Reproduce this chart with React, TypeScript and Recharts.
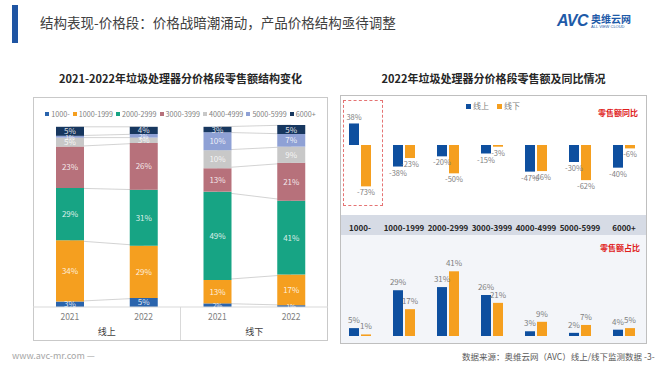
import React from 'react';
import {
  BarChart, Bar, ComposedChart, Line, XAxis, YAxis, Legend, LabelList,
} from 'recharts';

// 价格段
const priceBands = ['1000-', '1000-1999', '2000-2999', '3000-3999', '4000-4999', '5000-5999', '6000+'];
const bandColors = ['#2a64ad', '#f59f1f', '#17a484', '#b7717b', '#c8c8c8', '#8fa1d5', '#17375f'];

// 左图：结构变化（线上2021, 线上2022, 线下2021, 线下2022）
const years = ['2021', '2022', '2021', '2022'];
const groups = ['线上', '线上', '线下', '线下'];
const share1000 = [3, 5, 2, 1];
const share1000to1999 = [34, 29, 13, 17];
const share2000to2999 = [29, 31, 49, 41];
const share3000to3999 = [23, 26, 13, 21];
const share4000to4999 = [5, 3, 10, 9];
const share5000to5999 = [1, 2, 10, 7];
const share6000 = [5, 4, 3, 5];
const shareSeries = [share1000, share1000to1999, share2000to2999, share3000to3999, share4000to4999, share5000to5999, share6000];

// 右图：2022 同比 / 占比
const yoyOnline = [38, -38, -20, -15, -47, -30, -40];
const yoyOffline = [-73, -23, -50, -3, -46, -62, -6];
const shareOnline = [5, 29, 31, 26, 3, 2, 4];
const shareOffline = [1, 17, 41, 21, 9, 7, 5];

const FONT = '"Noto Sans CJK SC", "Noto Sans", sans-serif';

const structData = years.map((y, i) => {
  const row: any = { name: `${groups[i]}${y}`, idx: i };
  let cum = 0;
  shareSeries.forEach((s, k) => {
    row[`s${k}`] = s[i];
    cum += s[i];
    // 连接线：只在同一渠道的两年之间
    row[`on${k}`] = i < 2 ? cum : null;
    row[`off${k}`] = i >= 2 ? cum : null;
  });
  return row;
});

const yoyData = priceBands.map((b, i) => ({ band: b, online: yoyOnline[i], offline: yoyOffline[i] }));
const shareData = priceBands.map((b, i) => ({ band: b, online: shareOnline[i], offline: shareOffline[i] }));

function YearTick(props: any) {
  const { x, y, index, width } = props;
  const half = width / years.length / 2;
  return (
    <g>
      <text x={x} y={y + 13} textAnchor="middle" fontSize={8.5} fill="#7f7f7f">{years[index]}</text>
      {index % 2 === 0 && (
        <text x={x + half} y={y + 28} textAnchor="middle" fontSize={9} fill="#404040">{groups[index]}</text>
      )}
      {index === 2 && <line x1={x - half} x2={x - half} y1={y} y2={y + 33} stroke="#d9d9d9" />}
    </g>
  );
}

function StructLegend(props: any) {
  const items = (props.payload || []).filter((p: any) => p.type !== 'none');
  return (
    <div style={{ display: 'flex', justifyContent: 'center', gap: 3, fontSize: 7.2, color: '#7f7f7f', whiteSpace: 'nowrap', lineHeight: '10px' }}>
      {items.map((p: any) => (
        <span key={p.value} style={{ display: 'flex', alignItems: 'center' }}>
          <span style={{ display: 'inline-block', width: 4, height: 4, background: p.color, marginRight: 2 }} />
          {p.value}
        </span>
      ))}
    </div>
  );
}

function StructLabel(props: any) {
  const { x, y, width, height, value } = props;
  return (
    <text x={x + width / 2} y={y + height / 2 + 3} textAnchor="middle" fontSize={value <= 2 ? 6.5 : 8} fill="#ffffff" fillOpacity={0.85}>
      {`${value}%`}
    </text>
  );
}

function YoyLabel(props: any) {
  const { x, y, width, height, value } = props;
  const top = Math.min(y, y + height);
  const bottom = Math.max(y, y + height);
  const cx = x + width / 2;
  return (
    <text x={cx} y={value >= 0 ? top - 3 : bottom + 9} textAnchor="middle" fontSize={7.5} fill="#7f7f7f">
      {`${value}%`}
    </text>
  );
}

export default function App() {
  return (
    <div style={{ position: 'fixed', left: 0, top: 0, width: 671, height: 372, background: '#fff', fontFamily: FONT, overflow: 'hidden' }}>
      {/* 标题 */}
      <div style={{ position: 'absolute', left: 12, top: 5, width: 6, height: 38, background: '#1f55a3' }} />
      <div style={{ position: 'absolute', left: 40, top: 12, fontSize: 13.5, color: '#404040', whiteSpace: 'nowrap' }}>
        结构表现-价格段：价格战暗潮涌动，产品价格结构亟待调整
      </div>
      <div style={{ position: 'absolute', left: 557, top: 12, display: 'flex', alignItems: 'center', color: '#1e5aa8' }}>
        <span style={{ fontSize: 16, fontWeight: 900, fontStyle: 'italic', letterSpacing: -0.5, fontFamily: 'Liberation Sans, sans-serif' }}>AVC</span>
        <span style={{ display: 'flex', flexDirection: 'column', marginLeft: 3 }}>
          <span style={{ fontSize: 10, fontWeight: 700, lineHeight: '11px' }}>奥维云网</span>
          <span style={{ fontSize: 4, lineHeight: '5px', fontFamily: 'Liberation Sans, sans-serif' }}>ALL VIEW CLOUD</span>
        </span>
      </div>

      {/* 左侧 */}
      <div style={{ position: 'absolute', left: 33, width: 295, top: 70, textAlign: 'center', fontSize: 11, fontWeight: 700, color: '#262626', whiteSpace: 'nowrap' }}>
        2021-2022年垃圾处理器分价格段零售额结构变化
      </div>
      <div style={{ position: 'absolute', left: 33, top: 97, width: 295, height: 244, border: '1px solid #c9c9c9', boxSizing: 'border-box' }} />
      <div style={{ position: 'absolute', left: 33, top: 97 }}>
        <ComposedChart width={295} height={244} data={structData} margin={{ top: 12, right: 0, left: 0, bottom: 0 }} barCategoryGap="30%">
          <XAxis dataKey="name" axisLine={{ stroke: '#d9d9d9' }} tickLine={false} tickSize={0} tickMargin={0} height={34} tick={<YearTick />} interval={0} />
          <YAxis hide domain={[0, 101]} />
          <Legend verticalAlign="top" height={16} content={<StructLegend />} />
          {shareSeries.map((_, k) => (
            <Line key={`on${k}`} dataKey={`on${k}`} stroke="#c8c8c8" strokeWidth={0.8} dot={false} activeDot={false}
              legendType="none" isAnimationActive={false} zIndex={100} />
          ))}
          {shareSeries.map((_, k) => (
            <Line key={`off${k}`} dataKey={`off${k}`} stroke="#c8c8c8" strokeWidth={0.8} dot={false} activeDot={false}
              legendType="none" isAnimationActive={false} zIndex={100} />
          ))}
          {shareSeries.map((_, k) => (
            <Bar key={`s${k}`} dataKey={`s${k}`} name={priceBands[k]} stackId="a" fill={bandColors[k]} barSize={28} isAnimationActive={false}>
              <LabelList dataKey={`s${k}`} content={<StructLabel />} />
            </Bar>
          ))}
        </ComposedChart>
      </div>

      {/* 右侧 */}
      <div style={{ position: 'absolute', left: 340, width: 307, top: 70, textAlign: 'center', fontSize: 11, fontWeight: 700, color: '#262626', whiteSpace: 'nowrap' }}>
        2022年垃圾处理器分价格段零售额及同比情况
      </div>
      <div style={{ position: 'absolute', left: 341, top: 215, width: 305, height: 20, background: '#d6dbe5' }} />
      <div style={{ position: 'absolute', left: 341, top: 235, width: 305, height: 108, background: '#f3f5f9' }} />
      <div style={{ position: 'absolute', left: 340, top: 95, width: 307, height: 249, border: '1px solid #bfbfbf', boxSizing: 'border-box' }} />
      <div style={{ position: 'absolute', left: 343, top: 100, width: 40, height: 106, border: '1px dashed #e57373', boxSizing: 'border-box' }} />

      <div style={{ position: 'absolute', left: 466, top: 100, display: 'flex', gap: 8, fontSize: 8, color: '#7f7f7f' }}>
        <span><span style={{ display: 'inline-block', width: 5, height: 5, background: '#0e4f9f', marginRight: 2 }} />线上</span>
        <span><span style={{ display: 'inline-block', width: 5, height: 5, background: '#f59f1f', marginRight: 2 }} />线下</span>
      </div>
      <div style={{ position: 'absolute', left: 598, top: 107, fontSize: 8, fontWeight: 700, color: '#e01e1e' }}>零售额同比</div>
      <div style={{ position: 'absolute', left: 600, top: 242, fontSize: 8, fontWeight: 700, color: '#e01e1e' }}>零售额占比</div>

      <div style={{ position: 'absolute', left: 338, top: 97 }}>
        <BarChart width={308} height={118} data={yoyData} margin={{ top: 14, right: 0, left: 0, bottom: 19 }} barGap={2}>
          <XAxis dataKey="band" hide />
          <YAxis hide domain={[-90, 60]} />
          <Bar dataKey="online" fill="#0e4f9f" barSize={10} isAnimationActive={false}>
            <LabelList dataKey="online" content={<YoyLabel />} />
          </Bar>
          <Bar dataKey="offline" fill="#f59f1f" barSize={10} isAnimationActive={false}>
            <LabelList dataKey="offline" content={<YoyLabel />} />
          </Bar>
        </BarChart>
      </div>

      <div style={{ position: 'absolute', left: 338, top: 215 }}>
        <BarChart width={308} height={128} data={shareData} margin={{ top: 0, right: 0, left: 0, bottom: 7 }} barGap={2}>
          <XAxis dataKey="band" orientation="top" height={20} axisLine={false} tickLine={false} interval={0}
            tick={{ fontSize: 8, fontWeight: 700, fill: '#262626' }} tickMargin={-2} />
          <YAxis hide domain={[0, 64]} />
          <Bar dataKey="online" fill="#0e4f9f" barSize={10} isAnimationActive={false}>
            <LabelList dataKey="online" position="top" fontSize={8} fill="#7f7f7f" formatter={(v: any) => `${v}%`} />
          </Bar>
          <Bar dataKey="offline" fill="#f59f1f" barSize={10} isAnimationActive={false}>
            <LabelList dataKey="offline" position="top" fontSize={8} fill="#7f7f7f" formatter={(v: any) => `${v}%`} />
          </Bar>
        </BarChart>
      </div>

      {/* 页脚 */}
      <div style={{ position: 'absolute', left: 12, top: 349, fontSize: 9, color: '#a6a6a6' }}>www.avc-mr.com —</div>
      <div style={{ position: 'absolute', left: 462, top: 350, fontSize: 8.5, color: '#595959', whiteSpace: 'nowrap' }}>
        数据来源：奥维云网（AVC）线上/线下监测数据 -3-
      </div>
    </div>
  );
}
